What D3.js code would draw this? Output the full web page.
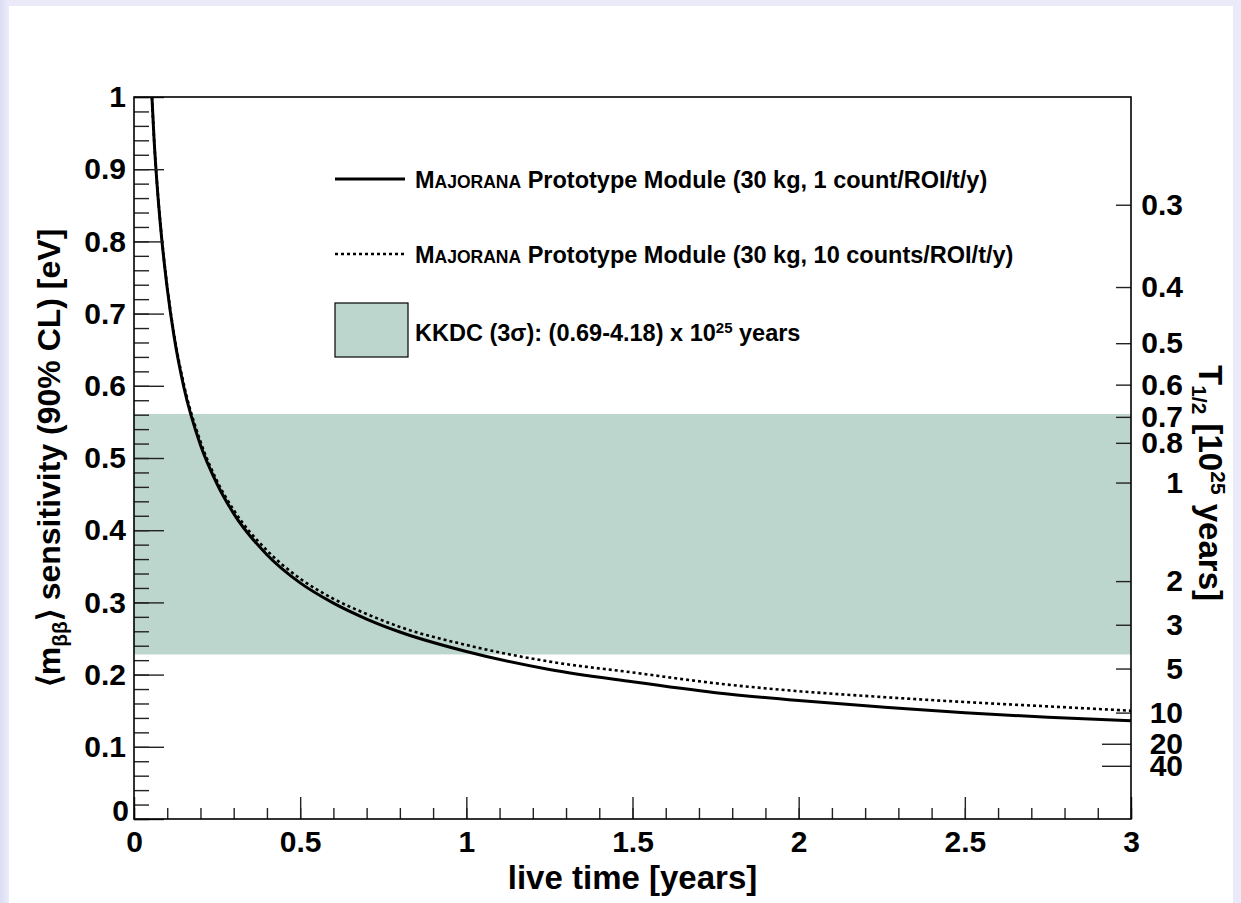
<!DOCTYPE html>
<html>
<head>
<meta charset="utf-8">
<script src="https://cdn.jsdelivr.net/npm/d3@7"></script>
<style>
  body { margin: 0; background: #eaeaf9; }
  text { font-family: "Liberation Sans", Arial, sans-serif; font-weight: bold; fill: #000; }
</style>
</head>
<body>
<div id="chart"></div>
<script>
// live time [years]
var liveTime = [0.054, 0.06, 0.07, 0.08, 0.1, 0.12, 0.15, 0.2, 0.25, 0.3, 0.4, 0.5, 0.6, 0.7, 0.8, 1.0, 1.25, 1.5, 1.75, 2.0, 2.25, 2.5, 2.75, 3.0];
// <m_bb> sensitivity [eV], 1 count/ROI/t/y
var sens1 = [1.0, 0.945, 0.875, 0.82, 0.735, 0.67, 0.598, 0.518, 0.464, 0.423, 0.366, 0.327, 0.299, 0.277, 0.259, 0.232, 0.207, 0.19, 0.175, 0.164, 0.155, 0.147, 0.141, 0.136];
// 10 counts/ROI/t/y
var sens10 = [1.0, 0.945, 0.876, 0.822, 0.737, 0.673, 0.602, 0.523, 0.468, 0.428, 0.372, 0.333, 0.305, 0.284, 0.266, 0.241, 0.218, 0.203, 0.188, 0.177, 0.169, 0.162, 0.156, 0.150];
var xTicks = [0, 0.5, 1, 1.5, 2, 2.5, 3];
var yTicks = [0, 0.1, 0.2, 0.3, 0.4, 0.5, 0.6, 0.7, 0.8, 0.9, 1];
var halfLifeTicks = [0.3, 0.4, 0.5, 0.6, 0.7, 0.8, 1, 2, 3, 5, 10, 20, 40];
var kkdcRange = [0.69, 4.18]; // 10^25 years
var mAtT1 = 0.466; // eV at T1/2 = 1e25 y

var W = 1241, H = 903;
var L = 134, R = 1131, T = 97, B = 819;
var tickFont = "30px";

var svg = d3.select("#chart").append("svg").attr("width", W).attr("height", H);

var defs = svg.append("defs");
var grad = defs.append("linearGradient").attr("id", "edge").attr("x1", 0).attr("x2", 1);
grad.append("stop").attr("offset", 0).attr("stop-color", "#dcdcf4");
grad.append("stop").attr("offset", 1).attr("stop-color", "#ececfa");
svg.append("rect").attr("width", W).attr("height", H).attr("fill", "#eaeaf9");
svg.append("rect").attr("width", 9).attr("height", H).attr("fill", "url(#edge)");
svg.append("rect").attr("x", 9).attr("y", 6).attr("width", 1224).attr("height", H - 6).attr("fill", "#fff");

var x = d3.scaleLinear().domain([0, 3]).range([L, R]);
var y = d3.scaleLinear().domain([0, 1]).range([B, T]);
// half-life axis: m ~ 1/sqrt(T)
var tScale = d3.scalePow().exponent(-0.5).domain([1, 4]).range([y(mAtT1), y(mAtT1 / 2)]);

// KKDC band
svg.append("rect")
  .attr("x", L).attr("width", R - L)
  .attr("y", tScale(kkdcRange[0]))
  .attr("height", tScale(kkdcRange[1]) - tScale(kkdcRange[0]))
  .attr("fill", "#bdd6cd");

// curves
var pts1 = liveTime.map(function(t, i) { return [t, sens1[i]]; });
var pts10 = liveTime.map(function(t, i) { return [t, sens10[i]]; });
var line = d3.line().x(function(d) { return x(d[0]); }).y(function(d) { return y(d[1]); }).curve(d3.curveMonotoneX);

svg.append("path").datum(pts10).attr("d", line)
  .attr("fill", "none").attr("stroke", "#000").attr("stroke-width", 2.6).attr("stroke-dasharray", "3,3");
svg.append("path").datum(pts1).attr("d", line)
  .attr("fill", "none").attr("stroke", "#000").attr("stroke-width", 3);

// minor ticks
var minorY = d3.range(0, 1.0001, 0.02);
svg.append("g").attr("transform", "translate(" + L + ",0)")
  .call(d3.axisLeft(y).tickValues(minorY).tickSize(-15).tickFormat(""))
  .call(function(g) { g.select(".domain").remove(); });
var minorX = d3.range(0, 3.0001, 0.1);
svg.append("g").attr("transform", "translate(0," + B + ")")
  .call(d3.axisBottom(x).tickValues(minorX).tickSize(-11).tickFormat(""))
  .call(function(g) { g.select(".domain").remove(); });

// major axes
var yAxis = svg.append("g").attr("transform", "translate(" + L + ",0)")
  .call(d3.axisLeft(y).tickValues(yTicks).tickSize(-30).tickPadding(8).tickFormat(d3.format("~g")));
var xAxis = svg.append("g").attr("transform", "translate(0," + B + ")")
  .call(d3.axisBottom(x).tickValues(xTicks).tickSize(-22).tickPadding(12).tickFormat(d3.format("~g")));

var rAxis = svg.append("g").attr("transform", "translate(" + R + ",0)")
  .call(d3.axisRight(tScale).tickValues(halfLifeTicks).tickSize(-15).tickPadding(52).tickFormat(d3.format("~g")));
rAxis.selectAll(".tick line").attr("x2", function(d) { return d >= 20 ? -29 : -15; });
rAxis.selectAll(".tick text").attr("text-anchor", "end");

[yAxis, xAxis, rAxis].forEach(function(g) {
  g.selectAll("text").style("font-size", tickFont).style("font-family", "'Liberation Sans', Arial, sans-serif").style("font-weight", "bold");
  g.select(".domain").remove();
});
yAxis.selectAll(".tick text").filter(function(d) { return d === 0; }).attr("dy", "0.05em").attr("x", -5);
svg.selectAll("g line").attr("stroke", "#222").attr("stroke-width", 1.4);

// frame
svg.append("rect").attr("x", L).attr("y", T).attr("width", R - L).attr("height", B - T)
  .attr("fill", "none").attr("stroke", "#000").attr("stroke-width", 1.6);

// axis titles
svg.append("text").attr("x", (L + R) / 2).attr("y", 889).attr("text-anchor", "middle")
  .style("font-size", "33px").text("live time [years]");

var yt = svg.append("text").attr("transform", "translate(60," + ((T + B) / 2) + ") rotate(-90)")
  .attr("text-anchor", "middle").style("font-size", "32px");
yt.append("tspan").text("\u27E8m");
yt.append("tspan").attr("baseline-shift", "-35%").style("font-size", "21px").text("\u03B2\u03B2");
yt.append("tspan").text("\u27E9 sensitivity (90% CL) [eV]");

var rt = svg.append("text").attr("transform", "translate(1199," + 483 + ") rotate(90)")
  .attr("text-anchor", "middle").style("font-size", "33px");
rt.append("tspan").text("T");
rt.append("tspan").attr("baseline-shift", "-35%").style("font-size", "21px").text("1/2");
rt.append("tspan").text(" [10");
rt.append("tspan").attr("baseline-shift", "55%").style("font-size", "21px").text("25");
rt.append("tspan").text(" years]");

// legend
var leg = svg.append("g");
var legendRows = [
  { y: 179, dash: null, count: "1 count" },
  { y: 254, dash: "3,3", count: "10 counts" }
];
legendRows.forEach(function(r) {
  leg.append("line").attr("x1", 335).attr("x2", 405).attr("y1", r.y).attr("y2", r.y)
    .attr("stroke", "#000").attr("stroke-width", r.dash ? 2.4 : 2.8).attr("stroke-dasharray", r.dash);
  var t = leg.append("text").attr("x", 415).attr("y", r.y + 9).style("font-size", "23.5px");
  t.append("tspan").text("M");
  t.append("tspan").style("font-size", "17.5px").text("AJORANA");
  t.append("tspan").text(" Prototype Module (30 kg, " + r.count + "/ROI/t/y)");
});
leg.append("rect").attr("x", 335).attr("y", 303).attr("width", 73).attr("height", 54)
  .attr("fill", "#bdd6cd").attr("stroke", "#000").attr("stroke-width", 1.2);
var kt = leg.append("text").attr("x", 415).attr("y", 341).style("font-size", "23.5px");
kt.append("tspan").text("KKDC (3\u03C3): (0.69-4.18) x 10");
kt.append("tspan").attr("baseline-shift", "55%").style("font-size", "15px").text("25");
kt.append("tspan").text(" years");
</script>
</body>
</html>
